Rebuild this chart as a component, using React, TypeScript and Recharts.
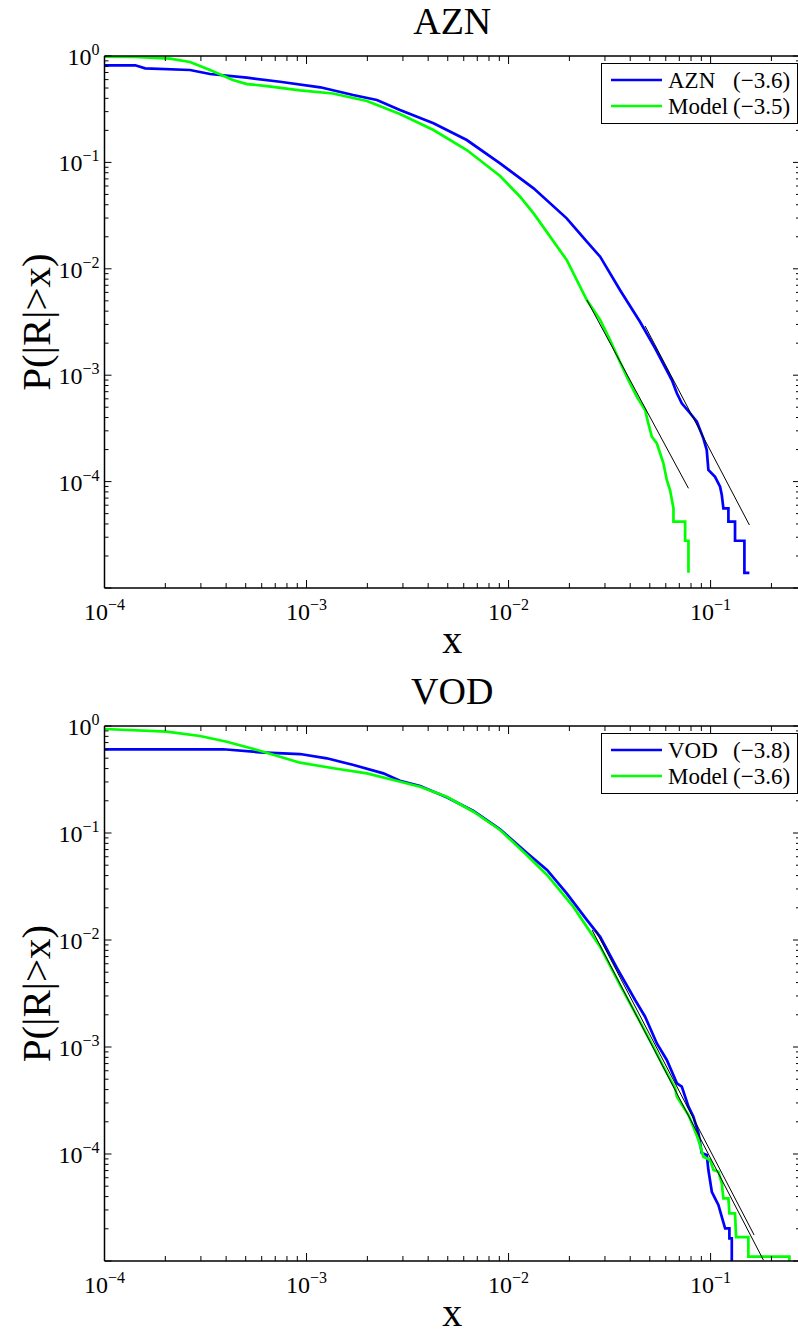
import React from "react";
import { LineChart, Line, XAxis, YAxis, Legend, Label } from "recharts";

// ---- AZN panel ----
const aznX = [1e-4, 1.42e-4, 1.59e-4, 2.65e-4, 3.33e-4, 5.07e-4, 7.39e-4, 1.17e-3, 1.7e-3, 2.23e-3, 2.9e-3, 4.25e-3, 6.21e-3, 9.08e-3, 1.33e-2, 1.94e-2, 2.44e-2, 2.84e-2, 3.56e-2, 4.48e-2, 5.31e-2, 6.43e-2, 6.81e-2, 7.2e-2, 7.92e-2, 8.55e-2, 9.21e-2, 9.57e-2, 9.75e-2, 0.1052, 0.1114, 0.1136, 0.1157, 0.1225, 0.1225, 0.1321, 0.1321, 0.147, 0.147, 0.1556]
const aznP = [0.818, 0.818, 0.766, 0.739, 0.677, 0.625, 0.573, 0.508, 0.43, 0.386, 0.311, 0.233, 0.1623, 0.098, 0.0571, 0.0298, 0.018, 0.013, 6.32e-3, 3.16e-3, 1.8e-3, 9e-4, 6.76e-4, 5.45e-4, 4.39e-4, 3.66e-4, 2.55e-4, 1.98e-4, 1.285e-4, 1.11e-4, 8.95e-5, 7.48e-5, 5.61e-5, 5.61e-5, 4.2e-5, 4.2e-5, 2.78e-5, 2.78e-5, 1.39e-5, 1.39e-5]
const aznModelX = [1e-4, 1.42e-4, 2.11e-4, 2.65e-4, 3.33e-4, 4.32e-4, 5.07e-4, 6.37e-4, 9.29e-4, 1.35e-3, 1.99e-3, 2.9e-3, 4.25e-3, 6.21e-3, 9.08e-3, 1.14e-2, 1.33e-2, 1.94e-2, 2.44e-2, 2.84e-2, 3.18e-2, 3.56e-2, 3.92e-2, 4.31e-2, 4.74e-2, 4.91e-2, 5.12e-2, 5.42e-2, 5.84e-2, 6.07e-2, 6.3e-2, 6.55e-2, 6.55e-2, 7.48e-2, 7.48e-2, 7.77e-2, 7.77e-2]
const aznModelP = [0.985, 0.979, 0.943, 0.878, 0.739, 0.595, 0.545, 0.522, 0.475, 0.444, 0.378, 0.285, 0.2016, 0.1308, 0.0745, 0.0476, 0.0332, 0.0121, 5.09e-3, 3.3e-3, 2.14e-3, 1.33e-3, 9e-4, 6.28e-4, 4.71e-4, 3.56e-4, 2.64e-4, 2.29e-4, 1.486e-4, 1.035e-4, 8.34e-5, 5.61e-5, 4.2e-5, 4.2e-5, 2.78e-5, 2.78e-5, 1.39e-5]
const aznFitX = [4.74e-2, 0.1556]
const aznFitP = [2.9e-3, 3.91e-5]
const aznModelFitX = [2.44e-2, 7.77e-2]
const aznModelFitP = [5.09e-3, 8.65e-5]
const aznLegend = ["AZN", "Model"]
const aznSlopes = ["(\u22123.6)", "(\u22123.5)"]

// ---- VOD panel ----
const vodX = [1e-4, 3.87e-4, 5.89e-4, 9.29e-4, 1.26e-3, 1.71e-3, 2.4e-3, 2.9e-3, 3.65e-3, 4.94e-3, 6.7e-3, 9.08e-3, 1.23e-2, 1.55e-2, 1.94e-2, 2.44e-2, 2.84e-2, 3.44e-2, 4.23e-2, 4.74e-2, 5.42e-2, 6.07e-2, 6.81e-2, 7.2e-2, 7.77e-2, 8.22e-2, 8.71e-2, 9.04e-2, 9.57e-2, 9.75e-2, 0.1014, 0.1052, 0.1093, 0.1136, 0.118, 0.1239, 0.1239, 0.1273, 0.1273]
const vodP = [0.606, 0.606, 0.568, 0.547, 0.499, 0.432, 0.361, 0.308, 0.275, 0.216, 0.1606, 0.1083, 0.0655, 0.0451, 0.0273, 0.0154, 0.0107, 5.47e-3, 2.75e-3, 1.92e-3, 1.08e-3, 7.57e-4, 4.58e-4, 4.26e-4, 2.77e-4, 2.23e-4, 1.56e-4, 1.02e-4, 9.8e-5, 7.08e-5, 4.44e-5, 3.85e-5, 3.34e-5, 2.59e-5, 2.02e-5, 2.02e-5, 1.63e-5, 1.63e-5, 1e-5]
const vodModelX = [1e-4, 2.03e-4, 2.97e-4, 4.03e-4, 6.11e-4, 9.29e-4, 1.36e-3, 1.99e-3, 2.69e-3, 3.65e-3, 4.94e-3, 6.7e-3, 9.08e-3, 1.23e-2, 1.55e-2, 2.09e-2, 2.84e-2, 3.56e-2, 4.48e-2, 5.31e-2, 5.84e-2, 6.67e-2, 6.81e-2, 7.77e-2, 8.22e-2, 8.71e-2, 9.21e-2, 9.94e-2, 0.1033, 0.1093, 0.1136, 0.1157, 0.1225, 0.1239, 0.1321, 0.1337, 0.1538, 0.1538, 0.2455, 0.2455]
const vodModelP = [0.937, 0.885, 0.806, 0.713, 0.575, 0.454, 0.403, 0.361, 0.313, 0.271, 0.218, 0.158, 0.1067, 0.0623, 0.0405, 0.0205, 8.66e-3, 3.8e-3, 1.71e-3, 9.37e-4, 6.54e-4, 4.11e-4, 3.43e-4, 2.31e-4, 1.8e-4, 1.35e-4, 9.44e-5, 8.79e-5, 7.08e-5, 6.83e-5, 5.32e-5, 3.85e-5, 3.85e-5, 2.79e-5, 2.79e-5, 1.67e-5, 1.67e-5, 1.1e-5, 1.1e-5, 1e-5]
const vodFitX = [2.59e-2, 0.1826]
const vodFitP = [1.24e-2, 1.02e-5]
const vodModelFitX = [2.69e-2, 0.1642]
const vodModelFitP = [1.24e-2, 1.75e-5]
const vodLegend = ["VOD", "Model"]
const vodSlopes = ["(\u22123.8)", "(\u22123.6)"]

// axes
const X_MAJOR = [1e-4, 1e-3, 1e-2, 1e-1]
const Y_MAJOR = [1e-5, 1e-4, 1e-3, 1e-2, 1e-1, 1]
const X_DOMAIN = [1e-4, 0.277]
const Y_DOMAIN = [1e-5, 1]

const FONT = '"Liberation Serif", "Times New Roman", serif'
const BLUE = "#0000ff"
const GREEN = "#00ff00"

const withMinor = (majors: number[], max: number) => {
  const out: number[] = []
  majors.forEach((m) => {
    for (let k = 1; k < 10; k++) {
      const v = m * k
      if (v <= max * 1.0001) out.push(v)
    }
  })
  return out
}
const X_TICKS = withMinor(X_MAJOR, X_DOMAIN[1])
const Y_TICKS = withMinor(Y_MAJOR, 1)

const isMajor = (v: number) => Math.abs(Math.log10(v) - Math.round(Math.log10(v))) < 1e-6
const expText = (v: number) => String(Math.round(Math.log10(v))).replace("-", "\u2212")

const zip = (xs: number[], ps: number[]) => xs.map((x, i) => ({ x, p: ps[i] }))

const TickLabel = ({ x, y, v, anchor }: any) => (
  <text x={x} y={y} textAnchor={anchor} fontFamily={FONT} fontSize={24} fill="#000">
    10
    <tspan dy={-10} fontSize={16}>{expText(v)}</tspan>
  </text>
)

const XTickBottom = (props: any) => {
  const { x, y, payload } = props
  const major = isMajor(payload.value)
  return (
    <g>
      <line x1={x} x2={x} y1={y} y2={y - (major ? 8 : 5)} stroke="#000" strokeWidth={1} />
      {major && <TickLabel x={x} y={y + 32} v={payload.value} anchor="middle" />}
    </g>
  )
}

const XTickTop = (props: any) => {
  const { x, y, payload } = props
  const major = isMajor(payload.value)
  return <line x1={x} x2={x} y1={y} y2={y + (major ? 8 : 5)} stroke="#000" strokeWidth={1} />
}

const YTickLeft = (props: any) => {
  const { x, y, payload } = props
  const v = payload.value
  const major = isMajor(v)
  return (
    <g>
      <line x1={x} x2={x + (major ? 7 : 4)} y1={y} y2={y} stroke="#000" strokeWidth={1} />
      {major && v > 1.5e-5 && <TickLabel x={x - 5} y={y + 9} v={v} anchor="end" />}
    </g>
  )
}

const YTickRight = (props: any) => {
  const { x, y, payload } = props
  const major = isMajor(payload.value)
  return <line x1={x} x2={x - (major ? 7 : 4)} y1={y} y2={y} stroke="#000" strokeWidth={1} />
}

type PanelProps = {
  top: number
  height: number
  plotTop: number
  xAxisHeight: number
  title: string
  names: string[]
  slopes: string[]
  data: { x: number; p: number }[]
  model: { x: number; p: number }[]
  fits: { x: number; p: number }[][]
}

function Panel({ top, height, plotTop, xAxisHeight, title, names, slopes, data, model, fits }: PanelProps) {
  const legend = () => (
    <svg width={200} height={62} style={{ display: "block" }}>
      <rect x={0.5} y={0.5} width={196} height={60} fill="#fff" stroke="#000" strokeWidth={1} />
      {[BLUE, GREEN].map((c, i) => (
        <g key={i}>
          <line x1={10} x2={61} y1={17 + i * 26} y2={17 + i * 26} stroke={c} strokeWidth={2.5} />
          <text x={67} y={25 + i * 26} fontFamily={FONT} fontSize={23} fill="#000">{names[i]}</text>
          <text x={132} y={25 + i * 26} fontFamily={FONT} fontSize={23} fill="#000">{slopes[i]}</text>
        </g>
      ))}
    </svg>
  )
  return (
    <div style={{ position: "absolute", left: 0, top, width: 801, height }}>
      <LineChart width={801} height={height} margin={{ top: plotTop - 1, right: 0, bottom: 0, left: 103.5 }}>
        <XAxis
          xAxisId="b"
          type="number"
          dataKey="x"
          scale="log"
          domain={X_DOMAIN}
          allowDataOverflow
          ticks={X_TICKS}
          interval={0}
          height={xAxisHeight}
          tickSize={0}
          tickMargin={0}
          tickLine={false}
          axisLine={{ stroke: "#000", strokeWidth: 1.5 }}
          tick={XTickBottom}
        >
          <Label
            content={(p: any) => (
              <text x={p.viewBox.x + p.viewBox.width / 2} y={p.viewBox.y + 65} textAnchor="middle" fontFamily={FONT} fontSize={40} fill="#000">
                x
              </text>
            )}
          />
        </XAxis>
        <XAxis
          xAxisId="t"
          orientation="top"
          type="number"
          dataKey="x"
          scale="log"
          domain={X_DOMAIN}
          allowDataOverflow
          ticks={X_TICKS}
          interval={0}
          height={1}
          tickSize={0}
          tickMargin={0}
          tickLine={false}
          axisLine={{ stroke: "#000", strokeWidth: 1.5 }}
          tick={XTickTop}
        >
          <Label
            content={(p: any) => (
              <text
                x={p.viewBox.x + p.viewBox.width / 2}
                y={p.viewBox.y + p.viewBox.height - 22}
                textAnchor="middle"
                fontFamily={FONT}
                fontSize={38}
                fill="#000"
              >
                {title}
              </text>
            )}
          />
        </XAxis>
        <YAxis
          yAxisId="l"
          type="number"
          dataKey="p"
          scale="log"
          domain={Y_DOMAIN}
          allowDataOverflow
          ticks={Y_TICKS}
          interval={0}
          width={1}
          tickSize={0}
          tickMargin={0}
          tickLine={false}
          axisLine={{ stroke: "#000", strokeWidth: 1.5 }}
          tick={YTickLeft}
        >
          <Label
            content={(p: any) => {
              const cy = p.viewBox.y + p.viewBox.height / 2
              return (
                <text transform={`translate(50, ${cy}) rotate(-90)`} textAnchor="middle" fontFamily={FONT} fontSize={41} fill="#000">
                  P(|R|&gt;x)
                </text>
              )
            }}
          />
        </YAxis>
        <YAxis
          yAxisId="r"
          orientation="right"
          type="number"
          dataKey="p"
          scale="log"
          domain={Y_DOMAIN}
          allowDataOverflow
          ticks={Y_TICKS}
          interval={0}
          width={1}
          tickSize={0}
          tickMargin={0}
          tickLine={false}
          axisLine={{ stroke: "#000", strokeWidth: 1.5 }}
          tick={YTickRight}
        />
        <Line xAxisId="b" yAxisId="l" data={data} dataKey="p" type="linear" stroke={BLUE} strokeWidth={2.7} dot={false} isAnimationActive={false} legendType="none" />
        <Line xAxisId="b" yAxisId="l" data={model} dataKey="p" type="linear" stroke={GREEN} strokeWidth={2.7} dot={false} isAnimationActive={false} legendType="none" />
        {fits.map((f, i) => (
          <Line key={i} xAxisId="b" yAxisId="l" data={f} dataKey="p" type="linear" stroke="#000" strokeWidth={1} dot={false} isAnimationActive={false} legendType="none" />
        ))}
        <Legend
          layout="horizontal"
          verticalAlign="middle"
          align="center"
          wrapperStyle={{ position: "absolute", left: 601, top: plotTop + 7, width: 200, height: 62 }}
          content={legend}
        />
      </LineChart>
    </div>
  )
}

export default function App() {
  return (
    <div style={{ position: "absolute", left: 0, top: 0, width: 798, height: 1335, overflow: "hidden", background: "#fff" }}>
      <Panel
        top={0}
        height={670}
        plotTop={56}
        xAxisHeight={82}
        title="AZN"
        names={aznLegend}
        slopes={aznSlopes}
        data={zip(aznX, aznP)}
        model={zip(aznModelX, aznModelP)}
        fits={[zip(aznModelFitX, aznModelFitP), zip(aznFitX, aznFitP)]}
      />
      <Panel
        top={630}
        height={705}
        plotTop={96}
        xAxisHeight={74}
        title="VOD"
        names={vodLegend}
        slopes={vodSlopes}
        data={zip(vodX, vodP)}
        model={zip(vodModelX, vodModelP)}
        fits={[zip(vodFitX, vodFitP), zip(vodModelFitX, vodModelFitP)]}
      />
    </div>
  )
}
